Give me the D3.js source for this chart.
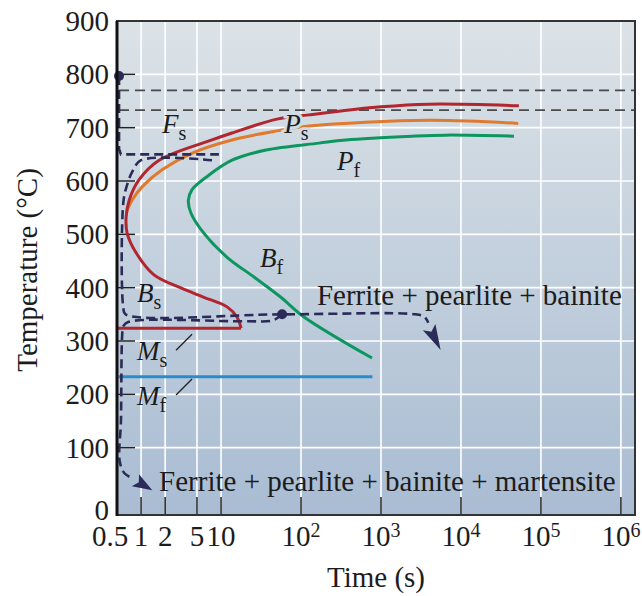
<!DOCTYPE html>
<html>
<head>
<meta charset="utf-8">
<script src="https://cdn.jsdelivr.net/npm/d3@7"></script>
<style>
  body { margin: 0; background: #fff; }
  text { font-family: "Liberation Serif", "Times New Roman", serif; fill: #1c1c1c; }
</style>
</head>
<body>
<script>
// values: time in s, temperature in deg C

// ferrite start (red C-curve)
var fsTime = [53000, 4000, 1000, 126, 50, 13.7, 7.7, 1.68, 0.94, 0.71, 0.65, 0.67, 0.87, 1.45, 3.2, 6.1, 11.9, 15.8, 17.8];
var fsTemp = [741, 744, 739, 724, 716, 690, 677, 639, 602, 564, 532, 502, 465, 424, 399, 382, 364, 345, 324];
// pearlite start (orange)
var psTime = [52000, 4000, 126, 50, 13.7, 4.3, 1.83, 1.03, 0.77, 0.66];
var psTemp = [708, 714, 703, 694, 677, 652, 621, 589, 564, 542];
// pearlite / bainite finish (green)
var pfTime = [46000, 6500, 2450, 363, 168, 36.5, 13.7, 6.5, 4.3, 3.9, 4.2, 6.1, 11.9, 25.8, 56, 109, 772];
var pfTemp = [684, 686, 684, 677, 671, 658, 639, 607, 583, 564, 540, 502, 457, 420, 382, 345, 268];
// Ms and Mf
var msTime = [0.5, 17.8], msTemp = [324, 324];
var mfTime = [0.52, 780], mfTemp = [233, 233];
// critical temperatures (grey dashed)
var critTemps = [770, 733];

// cooling paths (navy dashed)
var cool1Time = [0.53, 0.53, 0.56, 9.4];
var cool1Temp = [797, 660, 650, 650];
var cool2Time = [7.7, 1.0, 0.78, 0.66, 0.6, 0.6, 0.64, 58, 2700, 3500, 3900];
var cool2Temp = [639, 639, 618, 590, 560, 362, 350, 350, 350, 345, 334];
var cool3Time = [58, 45, 20, 0.7, 0.6, 0.58, 0.56, 0.54, 0.62, 0.8];
var cool3Temp = [350, 339, 337, 336, 328, 310, 150, 75, 52, 42];
var dotTime = [0.53, 58], dotTemp = [797, 350];
var arrowTail = [[4000, 326], [0.85, 39]];
var arrowTip = [[5570, 283], [1.38, 20]];

// axes
var xTicks = [0.5, 1, 2, 5, 10, 1e2, 1e3, 1e4, 1e5, 1e6];
var xTickBase = ["0.5", "1", "2", "5", "10", "10", "10", "10", "10", "10"];
var xTickExp = ["", "", "", "", "", "2", "3", "4", "5", "6"];
var yTicks = [0, 100, 200, 300, 400, 500, 600, 700, 800, 900];

// annotation labels
var labelMain = ["F", "P", "P", "B", "B", "M", "M"];
var labelSub = ["s", "s", "f", "f", "s", "s", "f"];
var labelTime = [1.83, 61.7, 282, 30.8, 0.89, 0.89, 0.89];
var labelTemp = [690, 690, 621, 439, 373, 264, 180];
var regionText = ["Ferrite + pearlite + bainite", "Ferrite + pearlite + bainite + martensite"];
var regionTime = [158, 1.68];
var regionTemp = [367, 18.5];

var w = 642, h = 596;
var pLeft = 117, pRight = 635, pTop = 21, pBottom = 515;

var svg = d3.select("body").append("svg")
    .attr("width", w)
    .attr("height", h);

var x = d3.scaleLog().domain([0.5, 1.5e6]).range([pLeft, pRight]);
var y = d3.scaleLinear().domain([0, 900]).range([501, pTop]);

// background gradient
var defs = svg.append("defs");
var grad = defs.append("linearGradient")
    .attr("id", "bg")
    .attr("gradientUnits", "userSpaceOnUse")
    .attr("x1", 0).attr("y1", pTop).attr("x2", 0).attr("y2", pBottom);
grad.append("stop").attr("offset", "0%").attr("stop-color", "#dce3e7");
grad.append("stop").attr("offset", "100%").attr("stop-color", "#a9bcd3");

svg.append("rect")
    .attr("x", pLeft).attr("y", pTop)
    .attr("width", pRight - pLeft).attr("height", pBottom - pTop)
    .attr("fill", "url(#bg)");

// grid
svg.selectAll(".vgrid")
    .data(xTicks.slice(1))
    .enter().append("line")
    .attr("x1", d => x(d)).attr("x2", d => x(d))
    .attr("y1", pTop).attr("y2", pBottom)
    .attr("stroke", "#fff").attr("stroke-width", 1.6);

svg.selectAll(".hgrid")
    .data(yTicks.slice(1, -1))
    .enter().append("line")
    .attr("x1", pLeft).attr("x2", pRight)
    .attr("y1", d => y(d)).attr("y2", d => y(d))
    .attr("stroke", "#fff").attr("stroke-width", 1.6);

// tick marks (inside)
svg.selectAll(".xtick")
    .data(xTicks.slice(1))
    .enter().append("line")
    .attr("x1", d => x(d)).attr("x2", d => x(d))
    .attr("y1", pBottom).attr("y2", pBottom - 18)
    .attr("stroke", "#222").attr("stroke-width", 1.5);

svg.selectAll(".ytick")
    .data(yTicks.slice(1, -1))
    .enter().append("line")
    .attr("x1", pLeft).attr("x2", pLeft + 18)
    .attr("y1", d => y(d)).attr("y2", d => y(d))
    .attr("stroke", "#222").attr("stroke-width", 1.5);

var line = d3.line()
    .x(d => x(d[0]))
    .y(d => y(d[1]))
    .curve(d3.curveCatmullRom.alpha(0.5));

var straight = d3.line()
    .x(d => x(d[0]))
    .y(d => y(d[1]));

// critical temperatures
svg.selectAll(".crit")
    .data(critTemps)
    .enter().append("line")
    .attr("x1", x(0.53)).attr("x2", pRight)
    .attr("y1", d => y(d)).attr("y2", d => y(d))
    .attr("stroke", "#4a4a4a").attr("stroke-width", 1.8)
    .attr("stroke-dasharray", "10,6");

// transformation curves
svg.append("path").attr("d", line(d3.zip(pfTime, pfTemp)))
    .attr("fill", "none").attr("stroke", "#0e9660").attr("stroke-width", 3);
svg.append("path").attr("d", line(d3.zip(psTime, psTemp)))
    .attr("fill", "none").attr("stroke", "#e07a2c").attr("stroke-width", 3);
svg.append("path").attr("d", line(d3.zip(fsTime, fsTemp)))
    .attr("fill", "none").attr("stroke", "#b1262f").attr("stroke-width", 3);
svg.append("path").attr("d", straight(d3.zip(msTime, msTemp)))
    .attr("fill", "none").attr("stroke", "#b1262f").attr("stroke-width", 3);
svg.append("path").attr("d", straight(d3.zip(mfTime, mfTemp)))
    .attr("fill", "none").attr("stroke", "#2b8ccd").attr("stroke-width", 3);

// cooling paths
var navy = "#2a2b58";
svg.append("path").attr("d", straight(d3.zip(cool1Time, cool1Temp)))
    .attr("fill", "none").attr("stroke", navy).attr("stroke-width", 2.6)
    .attr("stroke-dasharray", "9,5");
[d3.zip(cool2Time, cool2Temp), d3.zip(cool3Time, cool3Temp)].forEach(function (pts) {
    svg.append("path").attr("d", line(pts))
        .attr("fill", "none").attr("stroke", navy).attr("stroke-width", 2.6)
        .attr("stroke-dasharray", "9,5");
});

// arrow heads
arrowTail.forEach(function (t, i) {
    var p = arrowTip[i];
    var x0 = x(t[0]), y0 = y(t[1]), x1 = x(p[0]), y1 = y(p[1]);
    var dx = x1 - x0, dy = y1 - y0, len = Math.sqrt(dx * dx + dy * dy);
    var nx = -dy / len * 7, ny = dx / len * 7;
    svg.append("path")
        .attr("d", "M" + x1 + "," + y1 + "L" + (x0 + nx) + "," + (y0 + ny) +
            "L" + (x0 + dx * 0.2) + "," + (y0 + dy * 0.2) + "L" + (x0 - nx) + "," + (y0 - ny) + "Z")
        .attr("fill", navy);
});

svg.selectAll(".dot")
    .data(d3.zip(dotTime, dotTemp))
    .enter().append("circle")
    .attr("cx", d => x(d[0])).attr("cy", d => y(d[1]))
    .attr("r", 5).attr("fill", navy);

// frame
svg.append("rect")
    .attr("x", pLeft).attr("y", pTop)
    .attr("width", pRight - pLeft).attr("height", pBottom - pTop)
    .attr("fill", "none").attr("stroke", "#333").attr("stroke-width", 2);
svg.append("line")
    .attr("x1", pLeft).attr("x2", pLeft).attr("y1", pTop).attr("y2", pBottom + 1)
    .attr("stroke", "#111").attr("stroke-width", 3);

// curve labels
labelMain.forEach(function (m, i) {
    var lx = x(labelTime[i]), ly = y(labelTemp[i]);
    var t = svg.append("text")
        .attr("x", lx).attr("y", ly)
        .attr("font-size", 27);
    if (i === 1) {
        t.attr("stroke", "url(#bg)").attr("stroke-width", 6)
            .attr("paint-order", "stroke");
    }
    t.append("tspan").attr("font-style", "italic").text(m);
    t.append("tspan").attr("font-size", 20).attr("dy", 7).text(labelSub[i]);
    if (m === "M") {
        svg.append("line")
            .attr("x1", lx + 39).attr("y1", ly - 10)
            .attr("x2", lx + 55).attr("y2", ly - 26)
            .attr("stroke", "#222").attr("stroke-width", 1.3);
    }
});

regionText.forEach(function (s, i) {
    svg.append("text")
        .attr("x", x(regionTime[i])).attr("y", y(regionTemp[i]))
        .attr("font-size", 29)
        .text(s);
});

// tick labels
svg.selectAll(".ylab")
    .data(yTicks)
    .enter().append("text")
    .attr("x", 109)
    .attr("y", d => (d === 0 ? pBottom - 5 : y(d)))
    .attr("dy", "0.34em")
    .attr("text-anchor", "end")
    .attr("font-size", 29)
    .text(d => d);

xTicks.forEach(function (v, i) {
    var t = svg.append("text")
        .attr("x", x(v) - (i === 0 ? 7 : 0)).attr("y", 546)
        .attr("text-anchor", "middle")
        .attr("font-size", 29);
    t.append("tspan").text(xTickBase[i]);
    if (xTickExp[i]) {
        t.append("tspan").attr("font-size", 20).attr("dy", -9).text(xTickExp[i]);
    }
});

// axis titles
svg.append("text")
    .attr("x", (pLeft + pRight) / 2).attr("y", 587)
    .attr("text-anchor", "middle")
    .attr("font-size", 29)
    .text("Time (s)");

svg.append("text")
    .attr("text-anchor", "middle")
    .attr("transform", "translate(37," + ((pTop + pBottom) / 2 + 2) + ") rotate(-90)")
    .attr("font-size", 29)
    .text("Temperature (°C)");
</script>
</body>
</html>
